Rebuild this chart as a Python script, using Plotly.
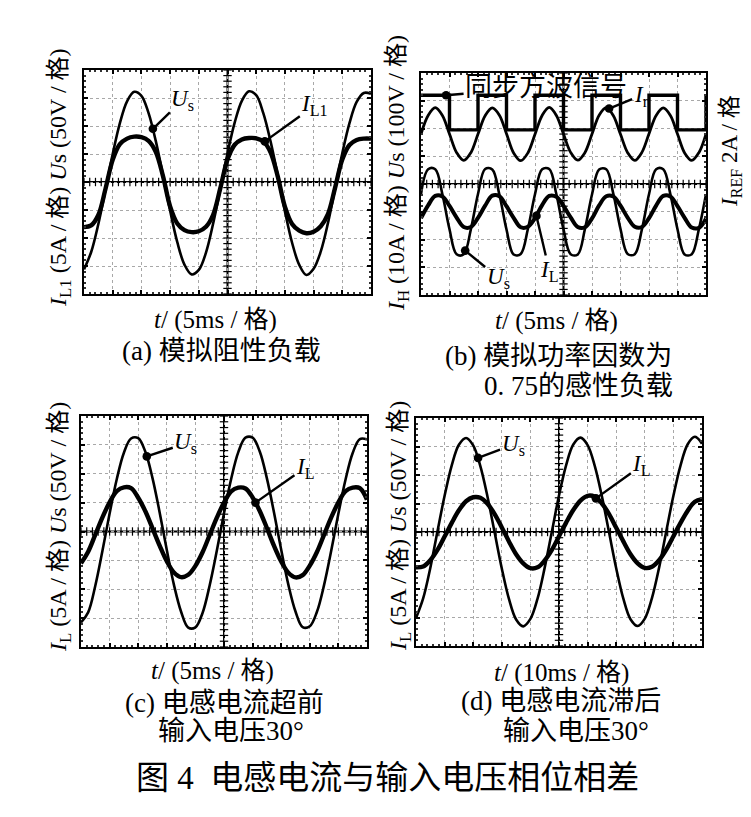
import numpy as np
import plotly.graph_objects as go

W, H = 751, 817

# ---------------- data (oscilloscope divisions) ----------------
# sample positions along the time axis (divisions, 10 divisions per screen)
t_div = [i * 0.25 for i in range(41)]
t_sq = [0, 1, 2, 3, 4, 5, 6, 7, 8, 9, 10]

# (a) resistive load
us_a = [-3.12, -2.50, -1.50, -0.27, 1.00, 2.10, 2.88, 3.22, 3.08, 2.46, 1.47, 0.25, -1.02, -2.15, -2.95, -3.30,
        -3.14, -2.52, -1.48, -0.25, 1.02, 2.12, 2.90, 3.24, 3.10, 2.45, 1.45, 0.24, -1.04, -2.17, -2.96, -3.32,
        -3.10, -2.48, -1.47, -0.22, 1.03, 2.10, 2.86, 3.18, 3.15]
il_a = [-1.61, -1.55, -1.18, -0.24, 0.79, 1.35, 1.55, 1.62, 1.60, 1.47, 1.08, 0.22, -0.87, -1.48, -1.72, -1.79,
        -1.76, -1.60, -1.17, -0.22, 0.80, 1.33, 1.52, 1.57, 1.56, 1.45, 1.06, 0.20, -0.88, -1.50, -1.74, -1.83,
        -1.78, -1.58, -1.15, -0.20, 0.80, 1.32, 1.50, 1.55, 1.55]

# (b) inductive load, PF 0.75
sq_b = [3.20, 1.95, 3.20, 1.95, 3.20, 1.95, 3.20, 1.95, 3.20, 1.95, 3.20]
iref_b = [1.80, 2.47, 2.75, 2.47, 1.80, 1.13, 0.85, 1.13,
          1.80, 2.46, 2.74, 2.48, 1.81, 1.12, 0.84, 1.12,
          1.79, 2.47, 2.76, 2.47, 1.80, 1.14, 0.86, 1.13,
          1.80, 2.48, 2.75, 2.46, 1.79, 1.13, 0.85, 1.14,
          1.81, 2.47, 2.74, 2.47, 1.80, 1.12, 0.85, 1.13, 1.80]
us_b = [-0.37, 0.53, 0.53, -0.37, -1.63, -2.53, -2.53, -1.63,
        -0.36, 0.54, 0.52, -0.38, -1.64, -2.54, -2.52, -1.62,
        -0.37, 0.53, 0.54, -0.37, -1.63, -2.53, -2.54, -1.63,
        -0.38, 0.52, 0.53, -0.36, -1.62, -2.52, -2.53, -1.64,
        -0.37, 0.53, 0.53, -0.37, -1.63, -2.54, -2.53, -1.63, -0.37]
il_b = [-1.23, -0.77, -0.43, -0.45, -0.79, -1.21, -1.55, -1.55,
        -1.22, -0.78, -0.42, -0.44, -0.80, -1.22, -1.56, -1.54,
        -1.23, -0.76, -0.43, -0.46, -0.79, -1.20, -1.55, -1.56,
        -1.24, -0.77, -0.44, -0.45, -0.78, -1.21, -1.54, -1.55,
        -1.23, -0.78, -0.43, -0.45, -0.80, -1.22, -1.57, -1.58, -1.25]

# (c) inductor current leading input voltage by 30 deg
us_c = [-3.15, -2.80, -1.88, -0.67, 0.62, 1.81, 2.73, 3.22, 3.23, 2.76, 1.85, 0.66, -0.64, -1.85, -2.78, -3.33,
        -3.32, -2.82, -1.86, -0.66, 0.63, 1.82, 2.75, 3.25, 3.25, 2.77, 1.84, 0.65, -0.63, -1.84, -2.77, -3.31,
        -3.28, -2.78, -1.85, -0.66, 0.62, 1.80, 2.72, 3.20, 3.19]
il_c = [-1.10, -0.70, -0.11, 0.49, 1.01, 1.40, 1.53, 1.50, 1.17, 0.70, 0.11, -0.49, -1.03, -1.42, -1.58, -1.50,
        -1.19, -0.72, -0.12, 0.48, 1.00, 1.39, 1.52, 1.49, 1.18, 0.71, 0.12, -0.50, -1.04, -1.43, -1.59, -1.51,
        -1.18, -0.71, -0.11, 0.49, 1.01, 1.40, 1.52, 1.50, 1.10]

# (d) inductor current lagging input voltage by 30 deg
us_d = [-3.02, -2.33, -1.26, 0.02, 1.27, 2.34, 3.06, 3.30, 3.04, 2.31, 1.24, -0.02, -1.28, -2.35, -3.07, -3.31,
        -3.05, -2.34, -1.25, 0.01, 1.28, 2.35, 3.07, 3.31, 3.05, 2.32, 1.25, -0.01, -1.27, -2.34, -3.06, -3.30,
        -3.04, -2.32, -1.25, 0.02, 1.27, 2.34, 3.08, 3.34, 3.10]
il_d = [-1.24, -1.21, -0.99, -0.63, -0.16, 0.32, 0.76, 1.08, 1.22, 1.20, 0.99, 0.63, 0.16, -0.33, -0.78, -1.10,
        -1.27, -1.24, -1.00, -0.63, -0.15, 0.33, 0.77, 1.10, 1.27, 1.24, 1.00, 0.63, 0.15, -0.33, -0.78, -1.10,
        -1.26, -1.22, -0.99, -0.62, -0.15, 0.32, 0.75, 1.06, 1.15]

# ---------------- text ----------------
ylab_a = "<i>I</i><sub>L1</sub> (5A / 格) <i>U</i>s (50V / 格)"
ylab_b = "<i>I</i><sub>H</sub> (10A / 格) <i>U</i>s (100V / 格)"
ylab_c = "<i>I</i><sub>L</sub> (5A / 格) <i>U</i>s (50V / 格)"
ylab_d = "<i>I</i><sub>L</sub> (5A / 格) <i>U</i>s (50V / 格)"
ylab_b_right = "<i>I</i><sub>REF</sub> 2A / 格"
xlab_5 = "<i>t</i>/ (5ms / 格)"
xlab_10 = "<i>t</i>/ (10ms / 格)"
cap_a = "(a) 模拟阻性负载"
cap_b1 = "(b) 模拟功率因数为"
cap_b2 = "0. 75的感性负载"
cap_c1 = "(c) 电感电流超前"
cap_c2 = "输入电压30°"
cap_d1 = "(d) 电感电流滞后"
cap_d2 = "输入电压30°"
fig_title = "图 4  电感电流与输入电压相位相差"
sq_label = "同步方波信号"

FONT = "Liberation Serif, Noto Sans CJK SC, serif"

def PX(x):
    return x / W

def PY(y):
    return 1 - y / H

# panel frames in pixels: (left, right, top, bottom)
frames = {
    "": (76, 363, 62, 286),
    "2": (413, 698, 65, 287),
    "3": (73, 359, 408, 639),
    "4": (408, 694, 410, 638),
}

fig = go.Figure()
layout = dict(width=W, height=H, margin=dict(l=0, r=0, t=0, b=0),
              paper_bgcolor="white", plot_bgcolor="white", showlegend=False,
              font=dict(family=FONT, color="black", size=20))
shapes = []

for k, (l, r, t, b) in frames.items():
    layout["xaxis" + k] = dict(
        domain=[PX(l), PX(r)], anchor="y" + k, range=[0, 10], tick0=0, dtick=1,
        showline=True, linecolor="black", linewidth=2, mirror="ticks",
        ticks="inside", ticklen=4, tickwidth=1.5, tickcolor="black", showticklabels=False,
        minor=dict(ticks="inside", ticklen=2, dtick=0.2, tickcolor="#333", showgrid=False),
        showgrid=True, gridcolor="#a8a8a8", griddash="dot", gridwidth=1,
        zeroline=False, fixedrange=True)
    layout["yaxis" + k] = dict(
        domain=[PY(b), PY(t)], anchor="x" + k, range=[-4, 4], tick0=0, dtick=1,
        showline=True, linecolor="black", linewidth=2, mirror="ticks",
        ticks="inside", ticklen=4, tickwidth=1.5, tickcolor="black", showticklabels=False,
        minor=dict(ticks="inside", ticklen=2, dtick=0.2, tickcolor="#333", showgrid=False),
        showgrid=True, gridcolor="#a8a8a8", griddash="dot", gridwidth=1,
        zeroline=False, fixedrange=True)
    xr, yr = "x" + k, "y" + k
    shapes.append(dict(type="line", xref=xr, yref=yr, x0=5, x1=5, y0=-4, y1=4,
                       line=dict(color="black", width=2), layer="below"))
    shapes.append(dict(type="line", xref=xr, yref=yr, x0=0, x1=10, y0=0, y1=0,
                       line=dict(color="black", width=2), layer="below"))
    # graticule tick marks on the centre cross
    hx = np.arange(0, 10.001, 0.2)
    vy = np.arange(-4, 4.001, 0.2)
    fig.add_trace(go.Scatter(x=hx, y=np.zeros_like(hx), mode="markers", xaxis=xr, yaxis=yr,
                             marker=dict(symbol="line-ns", size=6, line=dict(color="black", width=1.2)),
                             hoverinfo="skip"))
    fig.add_trace(go.Scatter(x=np.full_like(vy, 5.0), y=vy, mode="markers", xaxis=xr, yaxis=yr,
                             marker=dict(symbol="line-ew", size=6, line=dict(color="black", width=1.2)),
                             hoverinfo="skip"))

def wave(x, y, ax, width, shape="spline"):
    fig.add_trace(go.Scatter(x=x, y=y, mode="lines", xaxis="x" + ax, yaxis="y" + ax,
                             line=dict(color="black", width=width, shape=shape),
                             hoverinfo="skip"))

# (a)
wave(t_div, us_a, "", 2.6)
wave(t_div, il_a, "", 4.4)
# (b)
wave(t_sq, sq_b, "2", 3.4, shape="hv")
wave(t_div, iref_b, "2", 2.8)
wave(t_div, us_b, "2", 2.6)
wave(t_div, il_b, "2", 4.0)
# (c)
wave(t_div, us_c, "3", 2.6)
wave(t_div, il_c, "3", 4.4)
# (d)
wave(t_div, us_d, "4", 2.6)
wave(t_div, il_d, "4", 4.4)

ann = []

def lab(text, xref, x, y, ax, ay, size=23):
    ann.append(dict(text=text, xref=xref, yref=xref.replace("x", "y"), x=x, y=y, ax=ax, ay=ay,
                    showarrow=True, arrowhead=6, arrowsize=0.9, arrowwidth=2.4, arrowcolor="black",
                    standoff=0, font=dict(size=size, family=FONT, color="black")))

lab("<i>U</i><sub>s</sub>", "x", 2.4, 1.9, 30, -29)
lab("<i>I</i><sub>L1</sub>", "x", 6.3, 1.45, 50, -36)
lab(sq_label, "x2", 0.88, 3.2, 100, -8, size=27)
lab("<i>I</i><sub>r</sub>", "x2", 6.6, 2.72, 32, -13)
lab("<i>U</i><sub>s</sub>", "x2", 1.55, -2.4, 33, 27)
lab("<i>I</i><sub>L</sub>", "x2", 4.05, -1.15, 13, 55)
lab("<i>U</i><sub>s</sub>", "x3", 2.3, 2.6, 39, -13)
lab("<i>I</i><sub>L</sub>", "x3", 6.1, 1.0, 50, -35)
lab("<i>U</i><sub>s</sub>", "x4", 2.17, 2.6, 35, -13)
lab("<i>I</i><sub>L</sub>", "x4", 6.29, 1.18, 46, -33)

def txt(text, x, y, size, angle=0):
    ann.append(dict(text=text, xref="paper", yref="paper", x=PX(x), y=PY(y),
                    xanchor="center", yanchor="middle", showarrow=False, textangle=angle,
                    font=dict(size=size, family=FONT, color="black")))

# y-axis titles
txt(ylab_a, 52, 170, 24, -90)
txt(ylab_b, 390, 165, 24, -90)
txt(ylab_c, 52, 519, 24, -90)
txt(ylab_d, 392, 518, 24, -90)
txt(ylab_b_right, 723, 143, 23, -90)
# x-axis titles
txt(xlab_5, 207, 312, 25)
txt(xlab_5, 548, 313, 25)
txt(xlab_5, 204, 663, 25)
txt(xlab_10, 553, 665, 25)
# captions
txt(cap_a, 213, 343, 27)
txt(cap_b1, 550, 348, 27)
txt(cap_b2, 570, 378, 27)
txt(cap_c1, 217, 695, 27)
txt(cap_c2, 223, 723, 27)
txt(cap_d1, 553, 693, 27)
txt(cap_d2, 568, 723, 27)
# figure title
txt(fig_title, 379, 770, 33)

layout["annotations"] = ann
layout["shapes"] = shapes
fig.update_layout(**layout)
fig.write_html("out.html", config={"displayModeBar": False})
